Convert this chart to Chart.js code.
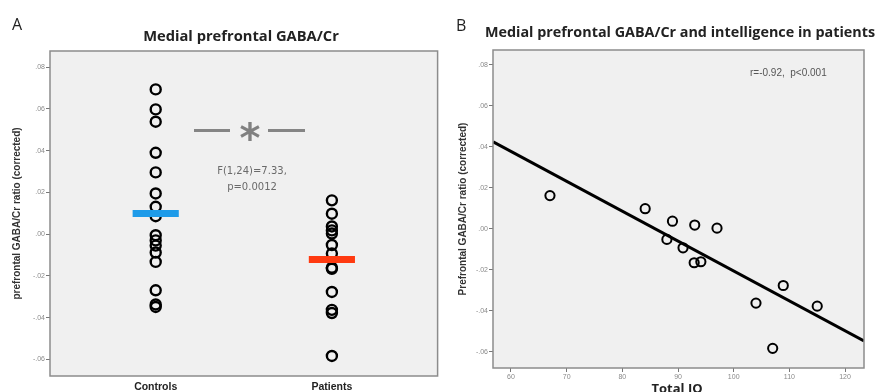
<!DOCTYPE html>
<html>
<head>
<meta charset="utf-8">
<script src="https://cdn.jsdelivr.net/npm/chart.js@4"></script>
<style>
  html, body { margin: 0; padding: 0; background: #fff; }
  #wrap { position: relative; width: 875px; height: 392px; overflow: hidden; }
  .box { position: absolute; top: 0; }
  .txt { position: absolute; white-space: nowrap; line-height: 1; }
  .panel { font-family: "Open Sans", sans-serif; font-size: 16px; color: #222; }
  .title { font-family: "Open Sans", sans-serif; font-weight: bold; font-size: 14.7px; color: #222; transform: translate(-50%, -50%); }
  .stat { font-family: "DejaVu Sans", sans-serif; font-size: 10px; color: #6a6a6a; transform: translate(-50%, -50%); }
  .dash { position: absolute; height: 3px; background: #858585; }
</style>
</head>
<body>
<div id="wrap">
  <div class="box" style="left:0;width:445px;height:392px"><canvas id="chart-a" width="445" height="392"></canvas></div>
  <div class="box" style="left:445px;width:430px;height:392px"><canvas id="chart-b" width="430" height="392"></canvas></div>

  <div class="txt panel" style="left:12px;top:16px">A</div>
  <div class="txt panel" style="left:456px;top:17px">B</div>
  <div class="txt title" style="left:241px;top:35px">Medial prefrontal GABA/Cr</div>
  <div class="txt title" style="left:485px;top:32px;transform:translate(0,-50%);font-size:14.35px">Medial prefrontal GABA/Cr and intelligence in patients</div>

  <div class="dash" style="left:194px;top:129px;width:36px"></div>
  <div class="dash" style="left:268px;top:129px;width:37px"></div>
  <div class="txt stat" style="left:250px;top:138px;font-size:40px;font-weight:bold;color:#808080">*</div>
  <div class="txt stat" style="left:252px;top:171px">F(1,24)=7.33,</div>
  <div class="txt stat" style="left:252px;top:187px">p=0.0012</div>

  <div class="txt" style="left:750px;top:68px;font-family:'Liberation Sans',sans-serif;font-size:10px;color:#555">r=-0.92,&nbsp; p&lt;0.001</div>
  <div class="txt title" style="left:677px;top:388px;font-size:13px">Total IQ</div>
</div>

<script>
/* ── data ─────────────────────────────────────── */
const groups = ["Controls", "Patients"];
const controlsGaba = [
  0.0694, 0.0598, 0.0539, 0.039, 0.0296, 0.0195, 0.0131, 0.0086,
  -0.0005, -0.003, -0.0055, -0.0088, -0.0133, -0.0269, -0.0337, -0.0349,
];
const groupMeans = [0.0099, -0.0121];

const patientsIQ = [67.0, 84.1, 89.0, 93.0, 97.0, 88.0, 90.9, 92.9, 94.1, 104.0, 108.9, 115.0, 107.0];
const patientsGaba = [
  0.0162, 0.0098, 0.0037, 0.0018, 0.0003, -0.0052, -0.0093, -0.0166,
  -0.0161, -0.0363, -0.0277, -0.0378, -0.0584,
];
const fitIQ = [56.8, 123.4];
const fitGaba = [0.0424, -0.0548];

const gabaTicks = [-0.06, -0.04, -0.02, 0, 0.02, 0.04, 0.06, 0.08];
const iqTicks = [60, 70, 80, 90, 100, 110, 120];

/* ── helpers ──────────────────────────────────── */
const TICK_FONT = { family: "'Liberation Sans', sans-serif", size: 7 };
const AXIS_TITLE_FONT = { family: "'Liberation Sans', sans-serif", size: 10, weight: "bold" };

function fmtGaba(v) {
  const s = Math.abs(v).toFixed(2).replace(/^0/, "");
  return (v < -1e-9 ? "-" : "") + s;
}

const plotBox = {
  id: "plotBox",
  beforeDraw(chart) {
    const { ctx, chartArea: a } = chart;
    ctx.save();
    ctx.fillStyle = "#f0f0f0";
    ctx.fillRect(a.left, a.top, a.right - a.left, a.bottom - a.top);
    ctx.restore();
  },
  afterDraw(chart) {
    const { ctx, chartArea: a } = chart;
    ctx.save();
    ctx.strokeStyle = "#8c8c8c";
    ctx.lineWidth = 1.5;
    ctx.strokeRect(a.left, a.top, a.right - a.left, a.bottom - a.top);
    ctx.restore();
  },
};

function gabaAxis(min, max, width, title, titlePad) {
  return {
    type: "linear",
    min,
    max,
    afterBuildTicks: (s) => {
      s.ticks = gabaTicks.map((v) => ({ value: v }));
    },
    afterFit: (s) => {
      s.width = width;
    },
    grid: { drawOnChartArea: false, drawTicks: true, tickLength: 4, tickColor: "#777", tickWidth: 1 },
    border: { display: false },
    ticks: { font: TICK_FONT, color: "#8a8a8a", padding: 1, callback: fmtGaba },
    title: { display: true, text: title, font: AXIS_TITLE_FONT, color: "#333", padding: { top: titlePad, bottom: 0 } },
  };
}

/* ── panel A ──────────────────────────────────── */
const MEAN_HALF = 0.131;
const meanColors = ["#1e9be9", "#ff3a10"];

new Chart(document.getElementById("chart-a"), {
  type: "scatter",
  data: {
    datasets: [
      ...groupMeans.map((m, i) => ({
        type: "line",
        data: [{ x: i - MEAN_HALF, y: m }, { x: i + MEAN_HALF, y: m }],
        borderColor: meanColors[i],
        borderWidth: 7,
        borderCapStyle: "butt",
        pointRadius: 0,
        order: 0,
      })),
      {
        data: controlsGaba.map((y) => ({ x: 0, y })),
        pointRadius: 5,
        pointBorderWidth: 2.4,
        pointBorderColor: "#000",
        pointBackgroundColor: "rgba(0,0,0,0)",
        order: 1,
      },
      {
        data: patientsGaba.map((y) => ({ x: 1, y })),
        pointRadius: 5,
        pointBorderWidth: 2.4,
        pointBorderColor: "#000",
        pointBackgroundColor: "rgba(0,0,0,0)",
        order: 1,
      },
    ],
  },
  options: {
    responsive: false,
    animation: false,
    layout: { padding: { left: 0, right: 5, top: 51, bottom: 0 } },
    plugins: { legend: { display: false }, tooltip: { enabled: false } },
    scales: {
      x: {
        type: "linear",
        display: true,
        min: -0.6,
        max: 1.6,
        afterBuildTicks: (s) => {
          s.ticks = groups.map((_, i) => ({ value: i }));
        },
        afterFit: (s) => {
          s.height = 16;
        },
        grid: { display: true, drawOnChartArea: false, drawTicks: false },
        border: { display: false },
        ticks: {
          display: true,
          autoSkip: false,
          font: { family: "'Liberation Sans', sans-serif", size: 10.5, weight: "bold" },
          color: "#222",
          padding: 5,
          maxRotation: 0,
          callback: (v) => groups[Math.round(v)],
        },
      },
      y: gabaAxis(-0.068, 0.0878, 50, "prefrontal GABA/Cr ratio (corrected)", 11),
    },
  },
  plugins: [plotBox],
});

/* ── panel B ──────────────────────────────────── */
new Chart(document.getElementById("chart-b"), {
  type: "scatter",
  data: {
    datasets: [
      {
        type: "line",
        data: fitIQ.map((x, i) => ({ x, y: fitGaba[i] })),
        borderColor: "#000",
        borderWidth: 3,
        pointRadius: 0,
        order: 1,
      },
      {
        data: patientsIQ.map((x, i) => ({ x, y: patientsGaba[i] })),
        pointRadius: 4.6,
        pointBorderWidth: 2,
        pointBorderColor: "#000",
        pointBackgroundColor: "rgba(0,0,0,0)",
        order: 0,
      },
    ],
  },
  options: {
    responsive: false,
    animation: false,
    layout: { padding: { left: 0, right: 11, top: 50, bottom: 0 } },
    plugins: { legend: { display: false }, tooltip: { enabled: false } },
    scales: {
      x: {
        type: "linear",
        min: 56.77,
        max: 123.4,
        afterBuildTicks: (s) => {
          s.ticks = iqTicks.map((v) => ({ value: v }));
        },
        afterFit: (s) => {
          s.height = 24;
        },
        grid: { drawOnChartArea: false, drawTicks: true, tickLength: 4, tickColor: "#777" },
        border: { display: false },
        ticks: { font: TICK_FONT, color: "#8a8a8a", padding: 1, maxRotation: 0 },
      },
      y: gabaAxis(-0.068, 0.0873, 48, "Prefrontal GABA/Cr ratio (corrected)", 12),
    },
  },
  plugins: [plotBox],
});
</script>
</body>
</html>
